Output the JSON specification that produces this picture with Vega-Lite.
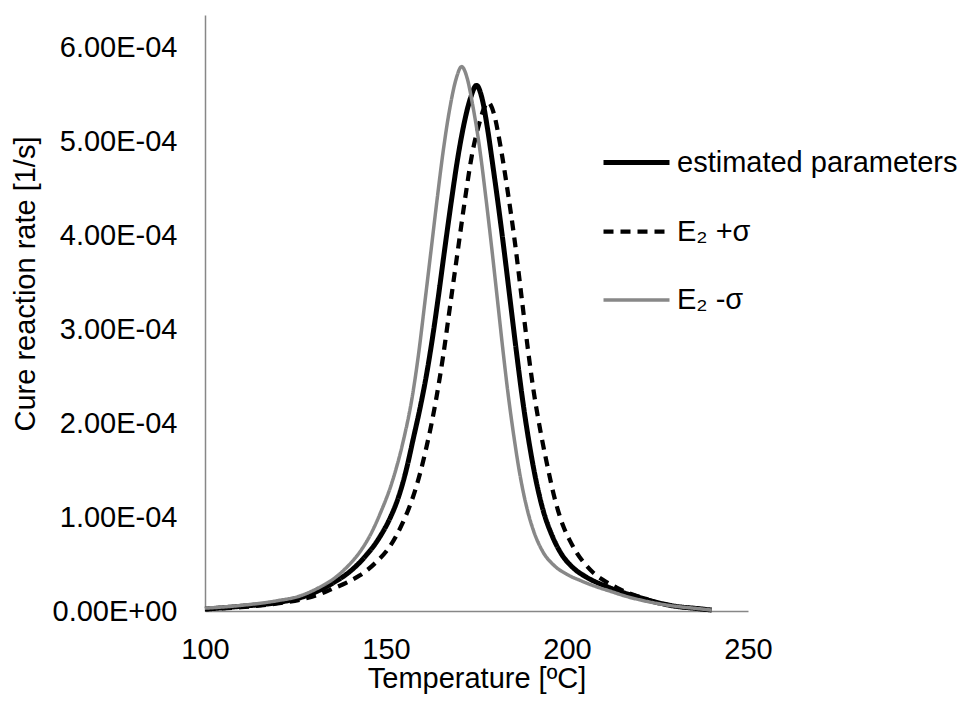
{
  "$schema": "https://vega.github.io/schema/vega-lite/v6.json",
  "width": 543,
  "height": 596,
  "autosize": {"type": "none"},
  "padding": {"left": 205, "top": 15, "right": 220, "bottom": 97},
  "background": "white",
  "config": {"view": {"stroke": null}, "font": "Liberation Sans"},
  "data": {"values": [
    {"s": "estimated parameters", "T": 100, "rate": 0.02e-4}, {"s": "estimated parameters", "T": 110, "rate": 0.05e-4},
    {"s": "estimated parameters", "T": 120, "rate": 0.09e-4}, {"s": "estimated parameters", "T": 126.2, "rate": 0.14e-4},
    {"s": "estimated parameters", "T": 131, "rate": 0.21e-4}, {"s": "estimated parameters", "T": 135.4, "rate": 0.30e-4},
    {"s": "estimated parameters", "T": 140, "rate": 0.42e-4}, {"s": "estimated parameters", "T": 144, "rate": 0.57e-4},
    {"s": "estimated parameters", "T": 148.3, "rate": 0.79e-4}, {"s": "estimated parameters", "T": 151, "rate": 0.98e-4},
    {"s": "estimated parameters", "T": 153.5, "rate": 1.22e-4}, {"s": "estimated parameters", "T": 155.7, "rate": 1.52e-4},
    {"s": "estimated parameters", "T": 157.5, "rate": 1.83e-4}, {"s": "estimated parameters", "T": 159.5, "rate": 2.18e-4},
    {"s": "estimated parameters", "T": 161.2, "rate": 2.52e-4}, {"s": "estimated parameters", "T": 162.8, "rate": 2.90e-4},
    {"s": "estimated parameters", "T": 164.4, "rate": 3.33e-4}, {"s": "estimated parameters", "T": 166.2, "rate": 3.85e-4},
    {"s": "estimated parameters", "T": 168.1, "rate": 4.38e-4}, {"s": "estimated parameters", "T": 169.8, "rate": 4.82e-4},
    {"s": "estimated parameters", "T": 171.5, "rate": 5.18e-4}, {"s": "estimated parameters", "T": 173.3, "rate": 5.46e-4},
    {"s": "estimated parameters", "T": 175.0, "rate": 5.60e-4}, {"s": "estimated parameters", "T": 176.6, "rate": 5.45e-4},
    {"s": "estimated parameters", "T": 178.0, "rate": 5.15e-4}, {"s": "estimated parameters", "T": 179.5, "rate": 4.75e-4},
    {"s": "estimated parameters", "T": 181.0, "rate": 4.33e-4}, {"s": "estimated parameters", "T": 182.6, "rate": 3.85e-4},
    {"s": "estimated parameters", "T": 184.3, "rate": 3.31e-4}, {"s": "estimated parameters", "T": 186.0, "rate": 2.77e-4},
    {"s": "estimated parameters", "T": 187.7, "rate": 2.26e-4}, {"s": "estimated parameters", "T": 189.5, "rate": 1.80e-4},
    {"s": "estimated parameters", "T": 191.5, "rate": 1.38e-4}, {"s": "estimated parameters", "T": 193.5, "rate": 1.06e-4},
    {"s": "estimated parameters", "T": 195.7, "rate": 0.82e-4}, {"s": "estimated parameters", "T": 198.1, "rate": 0.63e-4},
    {"s": "estimated parameters", "T": 201.7, "rate": 0.46e-4}, {"s": "estimated parameters", "T": 205.4, "rate": 0.36e-4},
    {"s": "estimated parameters", "T": 211, "rate": 0.26e-4}, {"s": "estimated parameters", "T": 216, "rate": 0.19e-4},
    {"s": "estimated parameters", "T": 220, "rate": 0.145e-4}, {"s": "estimated parameters", "T": 225, "rate": 0.09e-4},
    {"s": "estimated parameters", "T": 230, "rate": 0.05e-4}, {"s": "estimated parameters", "T": 235, "rate": 0.03e-4},
    {"s": "estimated parameters", "T": 240, "rate": 0.01e-4},

    {"s": "E₂ +σ", "T": 100, "rate": 0.02e-4}, {"s": "E₂ +σ", "T": 110, "rate": 0.04e-4},
    {"s": "E₂ +σ", "T": 120, "rate": 0.08e-4}, {"s": "E₂ +σ", "T": 126.2, "rate": 0.12e-4},
    {"s": "E₂ +σ", "T": 131, "rate": 0.17e-4}, {"s": "E₂ +σ", "T": 135.4, "rate": 0.24e-4},
    {"s": "E₂ +σ", "T": 139, "rate": 0.30e-4}, {"s": "E₂ +σ", "T": 142.8, "rate": 0.38e-4},
    {"s": "E₂ +σ", "T": 147, "rate": 0.51e-4}, {"s": "E₂ +σ", "T": 151.1, "rate": 0.69e-4},
    {"s": "E₂ +σ", "T": 154.5, "rate": 0.93e-4}, {"s": "E₂ +σ", "T": 157.5, "rate": 1.22e-4},
    {"s": "E₂ +σ", "T": 159.5, "rate": 1.48e-4}, {"s": "E₂ +σ", "T": 161.2, "rate": 1.75e-4},
    {"s": "E₂ +σ", "T": 162.6, "rate": 2.00e-4}, {"s": "E₂ +σ", "T": 164, "rate": 2.29e-4},
    {"s": "E₂ +σ", "T": 165.8, "rate": 2.72e-4}, {"s": "E₂ +σ", "T": 167.7, "rate": 3.25e-4},
    {"s": "E₂ +σ", "T": 169.8, "rate": 3.83e-4}, {"s": "E₂ +σ", "T": 171.8, "rate": 4.38e-4},
    {"s": "E₂ +σ", "T": 173.7, "rate": 4.85e-4}, {"s": "E₂ +σ", "T": 175.8, "rate": 5.20e-4},
    {"s": "E₂ +σ", "T": 177, "rate": 5.35e-4}, {"s": "E₂ +σ", "T": 178.2, "rate": 5.42e-4},
    {"s": "E₂ +σ", "T": 179.8, "rate": 5.30e-4}, {"s": "E₂ +σ", "T": 181.5, "rate": 4.98e-4},
    {"s": "E₂ +σ", "T": 183.5, "rate": 4.50e-4}, {"s": "E₂ +σ", "T": 185.6, "rate": 3.93e-4},
    {"s": "E₂ +σ", "T": 187.5, "rate": 3.33e-4}, {"s": "E₂ +σ", "T": 189, "rate": 2.85e-4},
    {"s": "E₂ +σ", "T": 190.6, "rate": 2.39e-4}, {"s": "E₂ +σ", "T": 192.6, "rate": 1.93e-4},
    {"s": "E₂ +σ", "T": 194.4, "rate": 1.58e-4}, {"s": "E₂ +σ", "T": 196.8, "rate": 1.17e-4},
    {"s": "E₂ +σ", "T": 198.9, "rate": 0.91e-4}, {"s": "E₂ +σ", "T": 200.8, "rate": 0.75e-4},
    {"s": "E₂ +σ", "T": 202.7, "rate": 0.62e-4}, {"s": "E₂ +σ", "T": 205, "rate": 0.50e-4},
    {"s": "E₂ +σ", "T": 207.2, "rate": 0.41e-4}, {"s": "E₂ +σ", "T": 210, "rate": 0.33e-4},
    {"s": "E₂ +σ", "T": 213.7, "rate": 0.25e-4}, {"s": "E₂ +σ", "T": 217, "rate": 0.19e-4},
    {"s": "E₂ +σ", "T": 220, "rate": 0.15e-4}, {"s": "E₂ +σ", "T": 225, "rate": 0.09e-4},
    {"s": "E₂ +σ", "T": 230, "rate": 0.05e-4}, {"s": "E₂ +σ", "T": 235, "rate": 0.03e-4},
    {"s": "E₂ +σ", "T": 240, "rate": 0.01e-4},

    {"s": "E₂ -σ", "T": 100, "rate": 0.03e-4}, {"s": "E₂ -σ", "T": 110, "rate": 0.06e-4},
    {"s": "E₂ -σ", "T": 120, "rate": 0.11e-4}, {"s": "E₂ -σ", "T": 126.2, "rate": 0.16e-4},
    {"s": "E₂ -σ", "T": 131, "rate": 0.24e-4}, {"s": "E₂ -σ", "T": 135.4, "rate": 0.34e-4},
    {"s": "E₂ -σ", "T": 139, "rate": 0.46e-4}, {"s": "E₂ -σ", "T": 142.8, "rate": 0.63e-4},
    {"s": "E₂ -σ", "T": 145.8, "rate": 0.82e-4}, {"s": "E₂ -σ", "T": 148.3, "rate": 1.03e-4},
    {"s": "E₂ -σ", "T": 151.9, "rate": 1.40e-4}, {"s": "E₂ -σ", "T": 154.7, "rate": 1.80e-4},
    {"s": "E₂ -σ", "T": 157.2, "rate": 2.27e-4}, {"s": "E₂ -σ", "T": 159.0, "rate": 2.74e-4},
    {"s": "E₂ -σ", "T": 160.8, "rate": 3.31e-4}, {"s": "E₂ -σ", "T": 162.5, "rate": 3.86e-4},
    {"s": "E₂ -σ", "T": 164.1, "rate": 4.38e-4}, {"s": "E₂ -σ", "T": 165.8, "rate": 4.90e-4},
    {"s": "E₂ -σ", "T": 167.6, "rate": 5.35e-4}, {"s": "E₂ -σ", "T": 169.3, "rate": 5.66e-4},
    {"s": "E₂ -σ", "T": 170.9, "rate": 5.80e-4}, {"s": "E₂ -σ", "T": 172.4, "rate": 5.68e-4},
    {"s": "E₂ -σ", "T": 173.9, "rate": 5.40e-4}, {"s": "E₂ -σ", "T": 175.8, "rate": 4.95e-4},
    {"s": "E₂ -σ", "T": 177.6, "rate": 4.40e-4}, {"s": "E₂ -σ", "T": 179.2, "rate": 3.87e-4},
    {"s": "E₂ -σ", "T": 180.8, "rate": 3.31e-4}, {"s": "E₂ -σ", "T": 182.3, "rate": 2.78e-4},
    {"s": "E₂ -σ", "T": 183.8, "rate": 2.29e-4}, {"s": "E₂ -σ", "T": 185.4, "rate": 1.84e-4},
    {"s": "E₂ -σ", "T": 187.1, "rate": 1.43e-4}, {"s": "E₂ -σ", "T": 188.9, "rate": 1.10e-4},
    {"s": "E₂ -σ", "T": 190.8, "rate": 0.85e-4}, {"s": "E₂ -σ", "T": 193.2, "rate": 0.64e-4},
    {"s": "E₂ -σ", "T": 196.3, "rate": 0.49e-4}, {"s": "E₂ -σ", "T": 200, "rate": 0.39e-4},
    {"s": "E₂ -σ", "T": 204, "rate": 0.32e-4}, {"s": "E₂ -σ", "T": 208, "rate": 0.26e-4},
    {"s": "E₂ -σ", "T": 212, "rate": 0.21e-4}, {"s": "E₂ -σ", "T": 216, "rate": 0.16e-4},
    {"s": "E₂ -σ", "T": 220, "rate": 0.12e-4}, {"s": "E₂ -σ", "T": 225, "rate": 0.08e-4},
    {"s": "E₂ -σ", "T": 230, "rate": 0.05e-4}, {"s": "E₂ -σ", "T": 235, "rate": 0.03e-4},
    {"s": "E₂ -σ", "T": 240, "rate": 0.01e-4}
  ]},
  "mark": {"type": "line", "interpolate": "monotone", "strokeCap": "butt"},
  "encoding": {
    "x": {
      "field": "T", "type": "quantitative",
      "scale": {"domain": [100, 250], "nice": false, "zero": false},
      "axis": {
        "values": [100, 150, 200, 250], "grid": false, "ticks": false, "tickSize": 0,
        "domainColor": "#878787", "domainWidth": 1.5,
        "labelFont": "Liberation Sans", "labelFontSize": 29, "labelColor": "#000000",
        "labelPadding": 24, "labelFlush": false, "labelOverlap": false,
        "title": "Temperature [ºC]", "titleFont": "Liberation Sans", "titleFontSize": 29,
        "titleFontWeight": "normal", "titleColor": "#000000",
        "titleY": 76, "titleBaseline": "alphabetic"
      }
    },
    "y": {
      "field": "rate", "type": "quantitative",
      "scale": {"domain": [0, 0.000635], "nice": false},
      "axis": {
        "values": [0, 0.0001, 0.0002, 0.0003, 0.0004, 0.0005, 0.0006],
        "labelExpr": "datum.value == 0 ? '0.00E+00' : format(datum.value * 10000, '.2f') + 'E-04'",
        "grid": false, "ticks": false, "tickSize": 0,
        "domainColor": "#878787", "domainWidth": 1.5,
        "labelFont": "Liberation Sans", "labelFontSize": 29, "labelColor": "#000000",
        "labelPadding": 28, "labelFlush": false, "labelOverlap": false,
        "title": "Cure reaction rate [1/s]", "titleFont": "Liberation Sans", "titleFontSize": 29,
        "titleFontWeight": "normal", "titleColor": "#000000",
        "titleX": -171, "titleY": 268.5, "titleAngle": -90, "titleAlign": "center", "titleBaseline": "alphabetic"
      }
    },
    "color": {
      "field": "s", "type": "nominal",
      "scale": {"domain": ["estimated parameters", "E₂ +σ", "E₂ -σ"], "range": ["#000000", "#000000", "#888888"]},
      "legend": {
        "title": null, "orient": "none", "legendX": 396, "legendY": 112, "padding": 0,
        "symbolType": "stroke", "symbolSize": 4356,
        "labelFont": "Liberation Sans", "labelFontSize": 29, "labelColor": "#000000",
        "labelOffset": 5, "rowPadding": 18, "labelLimit": 400
      }
    },
    "strokeDash": {
      "field": "s", "type": "nominal",
      "scale": {"domain": ["estimated parameters", "E₂ +σ", "E₂ -σ"], "range": [[1, 0], [10, 7], [1, 0]]}
    },
    "strokeWidth": {
      "field": "s", "type": "nominal",
      "scale": {"domain": ["estimated parameters", "E₂ +σ", "E₂ -σ"], "range": [5, 3.5, 5]}
    }
  }
}
